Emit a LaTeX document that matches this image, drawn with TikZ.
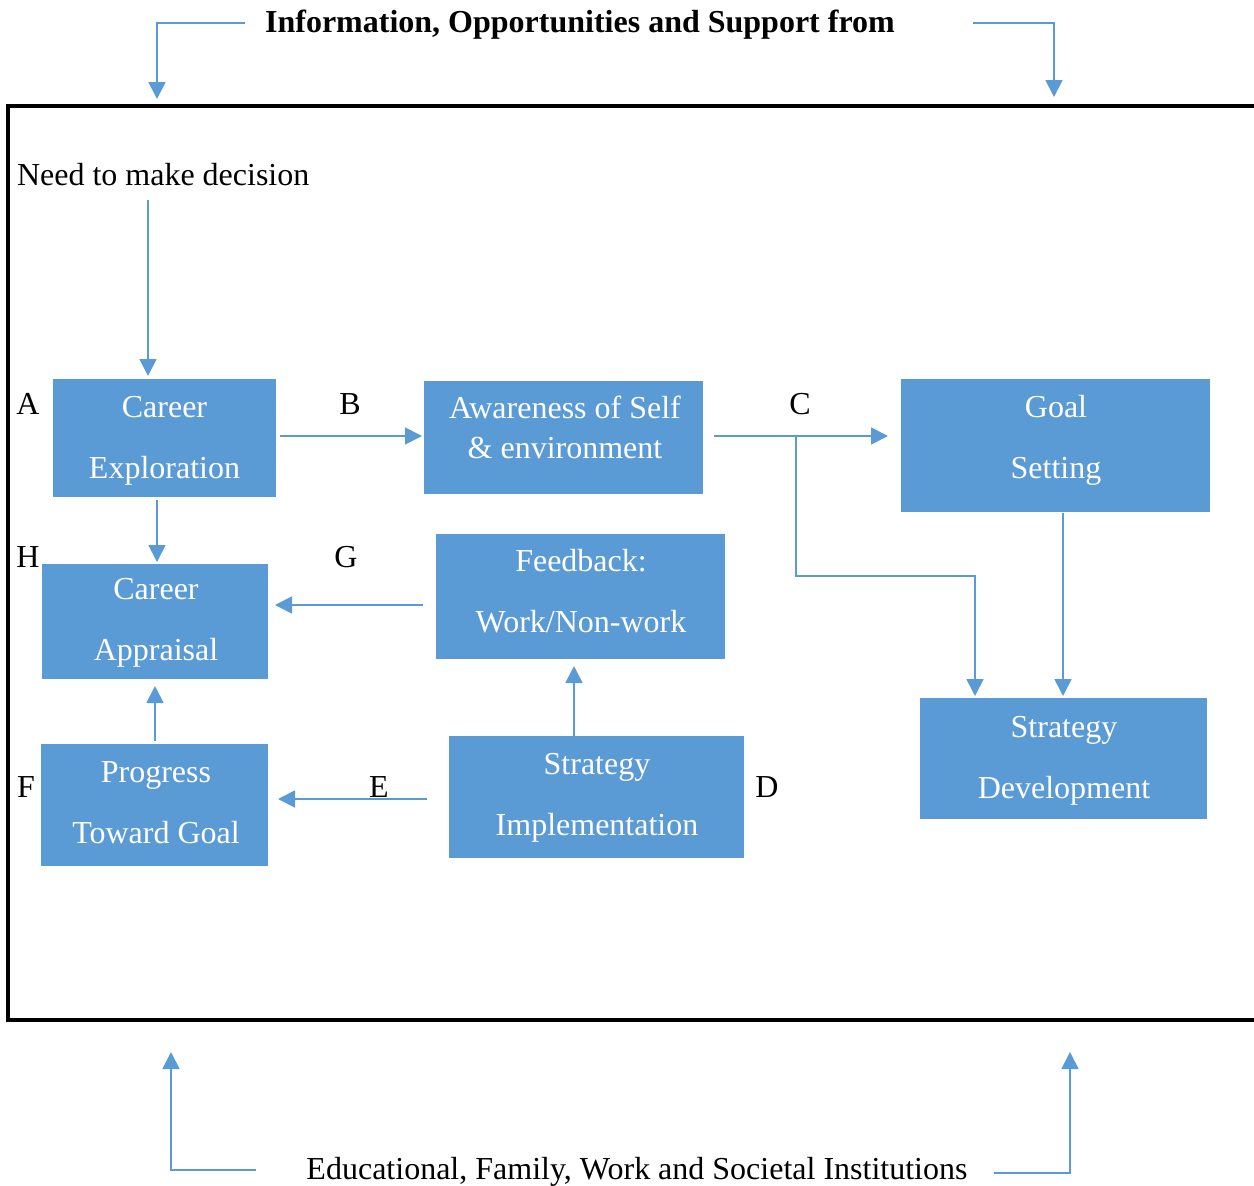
\documentclass[tikz,border=0pt]{standalone}
\usepackage{fontspec}
\setmainfont{Liberation Serif}
\usetikzlibrary{arrows.meta}
\definecolor{boxblue}{HTML}{5B9BD5}
\definecolor{lineblue}{HTML}{5B9BD5}
\begin{document}
\begin{tikzpicture}[x=1pt,y=-1pt,
  every node/.style={inner sep=0pt,outer sep=0pt},
  txt/.style={font=\fontsize{32}{61}\selectfont,text height=24pt,text depth=3pt,align=center},
  boxtxt/.style={txt,text=white,text height=85pt},
  box/.style={fill=boxblue,draw=none},
  conn/.style={draw=lineblue,line width=1.8pt},
  arr/.style={conn,-{Triangle[width=17pt,length=17pt]}},
  frame/.style={draw=black,line width=3.4pt}]
\useasboundingbox (0,0) rectangle (1254,1186);
\clip (0,0) rectangle (1254,1186);

% outer frame (runs past the right edge)
\draw[frame] (8,106) rectangle (1300,1020);

% headings above and below the frame
\node[txt,font=\fontsize{32}{38}\selectfont\bfseries] (top) at (580,22) {Information, Opportunities and Support from};
\node[txt] (bottom) at (637,1169) {Educational, Family, Work and Societal Institutions};
\node[txt,anchor=west] (need) at (17,175) {Need to make decision};

% boxes
\node[box,minimum width=223pt,minimum height=118pt] (ce) at (164.5,438) {};
\node[box,minimum width=279pt,minimum height=113pt] (aw) at (563.5,437.5) {};
\node[box,minimum width=309pt,minimum height=133pt] (gs) at (1055.5,445.5) {};
\node[box,minimum width=226pt,minimum height=115pt] (ca) at (155,621.5) {};
\node[box,minimum width=289pt,minimum height=125pt] (fb) at (580.5,596.5) {};
\node[box,minimum width=227pt,minimum height=122pt] (pg) at (154.5,805) {};
\node[box,minimum width=295pt,minimum height=122pt] (si) at (596.5,797) {};
\node[box,minimum width=287pt,minimum height=121pt] (sd) at (1063.5,758.5) {};

% box texts
\node[boxtxt] (ce-t) at (164.5,437.5) {Career\\Exploration};
\node[boxtxt,font=\fontsize{32}{40}\selectfont,text height=64pt] (aw-t) at (565,428) {Awareness of Self\\\& environment};
\node[boxtxt] (gs-t) at (1056,437.5) {Goal\\Setting};
\node[boxtxt] (ca-t) at (156,619) {Career\\Appraisal};
\node[boxtxt] (fb-t) at (581,591) {Feedback:\\Work/Non-work};
\node[boxtxt] (pg-t) at (156,802) {Progress\\Toward Goal};
\node[boxtxt] (si-t) at (597,794) {Strategy\\Implementation};
\node[boxtxt] (sd-t) at (1064,757.5) {Strategy\\Development};

% step letters
\node[txt] (la) at (28,404) {A};
\node[txt] (lb) at (350,404) {B};
\node[txt] (lc) at (800,404) {C};
\node[txt] (lh) at (28,557) {H};
\node[txt] (lg) at (346,557) {G};
\node[txt] (lf) at (26,787) {F};
\node[txt] (le) at (379,787) {E};
\node[txt] (ld) at (767,787) {D};

% free ends on the frame
\coordinate (tl) at (157,99);
\coordinate (tr) at (1054,97);
\coordinate (bl) at (171,1052);
\coordinate (br) at (1070,1052);
\coordinate (cb) at (796,436);
\coordinate (cturn) at (975,576);

% arrows from the outside sources
\draw[arr] ([xshift=-20pt,yshift=-1pt]top.west) -| (tl);
\draw[arr] ([xshift=78pt,yshift=-1pt]top.east) -| (tr);
\draw[arr] ([xshift=-50pt,yshift=-1pt]bottom.west) -| (bl);
\draw[arr] ([xshift=26pt,yshift=-4pt]bottom.east) -| (br);

% process arrows
\draw[arr,shorten <=11pt,shorten >=3pt] (need.south -| 148,0) -- (ce.north -| 148,0);
\draw[arr,shorten <=4pt,shorten >=2pt] (ce.east |- 0,436) -- (aw.west |- 0,436);
\draw[arr,shorten <=11pt,shorten >=13pt] (aw.east |- 0,436) -- (gs.west |- 0,436);
\draw[arr,shorten >=2pt] (cb) |- (cturn) -- (cturn |- sd.north);
\draw[arr,shorten <=1pt,shorten >=2pt] (gs.south -| 1063,0) -- (sd.north -| 1063,0);
\draw[arr,shorten <=3pt,shorten >=2pt] (ce.south -| 157,0) -- (ca.north -| 157,0);
\draw[arr,shorten <=13pt,shorten >=7pt] (fb.west |- 0,605) -- (ca.east |- 0,605);
\draw[arr,shorten <=3pt,shorten >=7pt] (pg.north -| 155,0) -- (ca.south -| 155,0);
\draw[arr,shorten >=7pt] (si.north -| 574,0) -- (fb.south -| 574,0);
\draw[arr,shorten <=22pt,shorten >=10pt] (si.west |- 0,799) -- (pg.east |- 0,799);
\end{tikzpicture}
\end{document}
